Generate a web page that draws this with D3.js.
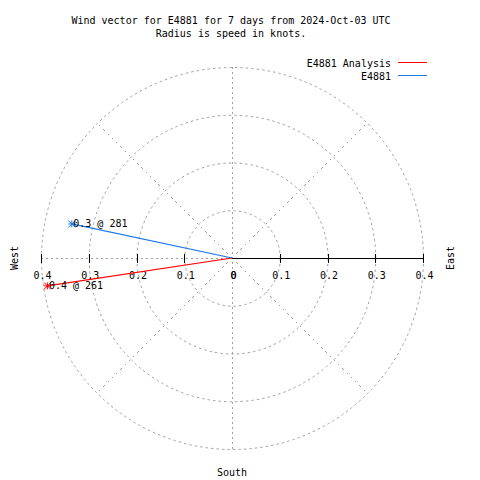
<!DOCTYPE html>
<html><head><meta charset="utf-8">
<script src="https://cdn.jsdelivr.net/npm/d3@7"></script>
<style>body{margin:0;background:#fff}text{font-family:"DejaVu Sans Mono",monospace;font-size:10px;fill:#000}.crisp line{shape-rendering:crispEdges}</style>
</head><body>
<script>
const titleLines = ["Wind vector for E4881 for 7 days from 2024-Oct-03 UTC", "Radius is speed in knots."];
const seriesNames = ["E4881 Analysis", "E4881"];
const seriesColors = ["#ff0000", "#1a78e8"];
const speeds = [0.391, 0.343];
const directions = [261.4, 282];
const pointLabels = ["0.4 @ 261", "0.3 @ 281"];
const radialTicks = [0, 0.1, 0.2, 0.3, 0.4];
const tickLabels = ["0", "0.1", "0.2", "0.3", "0.4"];
const spokeAngles = [45, 135, 225, 315];
const compass = ["West", "East", "South"];

const W = 480, H = 480, cx = 232, cy = 258;
const svg = d3.select("body").append("svg").attr("width", W).attr("height", H);
const r = d3.scaleLinear().domain([0, 0.4]).range([0, 191]);
const rad = d => d * Math.PI / 180;
const px = (s, a) => cx + r(s) * Math.sin(rad(a));
const py = (s, a) => cy - r(s) * Math.cos(rad(a));

const grid = svg.append("g").attr("class", "crisp").attr("fill", "none").attr("stroke", "#a0a0a0").attr("stroke-width", 1).attr("stroke-dasharray", "2,4");
grid.selectAll("circle").data(radialTicks.slice(1)).join("circle")
  .attr("cx", cx + 0.5).attr("cy", cy + 0.5).attr("r", d => r(d)).attr("stroke-dasharray", "2.5,3");
grid.selectAll("line.spoke").data(spokeAngles).join("line")
  .attr("x1", cx).attr("y1", cy).attr("x2", d => px(0.4, d)).attr("y2", d => py(0.4, d));
grid.append("line").attr("x1", cx + 0.5).attr("x2", cx + 0.5).attr("y1", py(0.4, 0)).attr("y2", py(0.4, 180)).attr("stroke-dasharray", "2,3");
grid.append("line").attr("x1", px(0.4, 270)).attr("x2", cx).attr("y1", cy + 0.5).attr("y2", cy + 0.5).attr("stroke-dasharray", "2,3");

// axis
const ax = svg.append("g").attr("class", "crisp").attr("stroke", "#000").attr("stroke-width", 1);
ax.append("line").attr("x1", cx).attr("x2", px(0.4, 90)).attr("y1", cy + 0.5).attr("y2", cy + 0.5);
[90, 270].forEach(a => {
  ax.selectAll(null).data(radialTicks.slice(1)).join("line")
    .attr("x1", d => Math.round(px(d, a)) + 0.5).attr("x2", d => Math.round(px(d, a)) + 0.5)
    .attr("y1", cy - 4).attr("y2", cy + 5);
  svg.append("g").selectAll("text").data(radialTicks).join("text")
    .attr("x", d => px(d, a) + 1.5).attr("y", cy + 21).attr("text-anchor", "middle")
    .text((d, i) => tickLabels[i]);
});

// title
svg.selectAll("text.title").data(titleLines).join("text")
  .attr("x", 231).attr("y", (d, i) => 24 + i * 13).attr("text-anchor", "middle").text(d => d);

// compass labels
svg.append("text").attr("transform", `translate(18,${cy}) rotate(-90)`).attr("text-anchor", "middle").text(compass[0]);
svg.append("text").attr("transform", `translate(454,${cy}) rotate(-90)`).attr("text-anchor", "middle").text(compass[1]);
svg.append("text").attr("x", cx).attr("y", 476).attr("text-anchor", "middle").text(compass[2]);

// vectors
seriesNames.forEach((name, i) => {
  const x2 = px(speeds[i], directions[i]), y2 = py(speeds[i], directions[i]);
  svg.append("line").attr("x1", cx).attr("y1", cy).attr("x2", x2).attr("y2", y2)
    .attr("stroke", seriesColors[i]).attr("stroke-width", 1.2);
  const s = 3.5;
  const m = svg.append("g").attr("stroke", seriesColors[i]).attr("stroke-width", 1);
  [[-s, 0, s, 0], [0, -s, 0, s], [-s, -s, s, s], [-s, s, s, -s]].forEach(c => {
    m.append("line").attr("x1", x2 + c[0]).attr("y1", y2 + c[1]).attr("x2", x2 + c[2]).attr("y2", y2 + c[3]);
  });
  svg.append("text").attr("x", x2 + 1.5).attr("y", y2 + 3).text(pointLabels[i]);
  // legend
  const ly = 62.5 + i * 12.5;
  svg.append("text").attr("x", 391).attr("y", ly + 4.5).attr("text-anchor", "end").text(name);
  svg.append("line").attr("x1", 398).attr("x2", 427).attr("y1", ly).attr("y2", ly)
    .attr("stroke", seriesColors[i]).attr("stroke-width", 1).style("shape-rendering", "crispEdges");
});
</script>
</body></html>
